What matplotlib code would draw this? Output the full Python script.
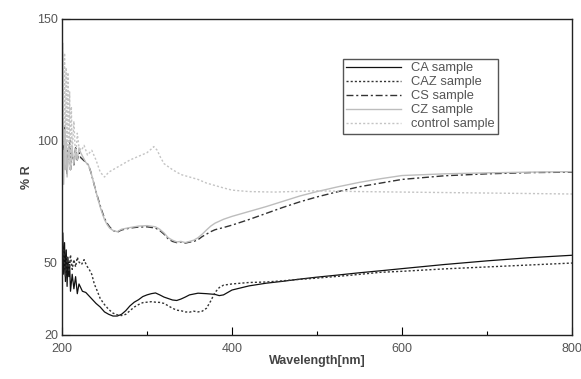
import matplotlib
matplotlib.use("Agg")
import matplotlib.pyplot as plt
from matplotlib.ticker import FixedLocator

plt.rcParams['font.family'] = ['Liberation Sans', 'DejaVu Sans']

# CA sample (black solid)
wl_ca = [200, 201, 202, 203, 204, 205, 206, 207, 208, 209, 210, 212, 214, 216, 218, 220,
         224, 228, 232, 236, 240, 245, 250, 255, 260, 265, 270, 275, 280, 285, 290, 295,
         300, 305, 310, 315, 320, 325, 330, 335, 340, 345, 350, 360, 370, 380, 385, 390,
         400, 420, 440, 460, 480, 500, 520, 550, 580, 600, 650, 700, 750, 800]
ca = [50, 62, 45, 58, 42, 55, 40, 52, 44, 49, 38, 45, 39, 44, 37, 41,
      38, 37.5, 36, 34.5, 33, 31.5, 29.5, 28.5, 27.8, 27.8, 28.5, 30, 32, 33.5, 34.5, 35.8,
      36.5, 37, 37.3, 36.5, 35.6, 35, 34.4, 34.2, 34.8, 35.6, 36.5, 37.2, 37, 36.7, 36.2, 36.5,
      38.5, 40.2, 41.3, 42.1, 43, 43.8, 44.5, 45.6, 46.6, 47.3, 49, 50.5, 51.8, 52.8]

# CAZ sample (dotted)
wl_caz = [200, 202, 204, 206, 208, 210, 212, 214, 216, 218, 220, 223, 226, 229, 232, 235,
          238, 241, 245, 250, 255, 260, 265, 270, 275, 280, 285, 290, 295, 300, 305, 310,
          315, 320, 325, 330, 335, 340, 345, 350, 355, 360, 365, 370, 375, 380, 385, 390,
          400, 420, 440, 460, 480, 500, 540, 575, 600, 650, 700, 750, 800]
caz = [48, 55, 44, 52, 46, 53, 47, 51, 48, 52, 50, 49, 51, 48.5, 47, 45,
       41, 38.5, 35, 32.5, 30.5, 29, 28.3, 28, 28.5, 30, 31.5, 32.5, 33.3, 33.5, 33.7, 33.5,
       33.4, 33, 32, 31, 30.2, 30, 29.5, 29.4, 29.8, 29.5, 29.8, 31, 34, 37.5, 39.5, 40.5,
       41, 41.6, 41.8, 42.3, 42.9, 43.4, 44.6, 45.8, 46.2, 47.2, 48, 48.8, 49.6]

# CS sample (dash-dot)
wl_cs = [200, 201, 202, 203, 204, 205, 206, 207, 208, 209, 210, 212, 214, 216, 218, 220,
         222, 225, 228, 231, 234, 237, 240, 243, 246, 250, 253, 256, 260, 265, 270, 280,
         290, 300, 310, 315, 320, 325, 330, 335, 340, 345, 350, 355, 360, 365, 370, 375,
         380, 390, 400, 420, 440, 460, 480, 500, 525, 550, 575, 600, 650, 700, 750, 800]
cs = [85, 100, 88, 106, 90, 98, 86, 96, 92, 100, 88, 95, 90, 97, 92, 95,
      93, 92, 91, 90, 87, 83, 79, 75.5, 72, 68, 66, 64.5, 63, 62.3, 63.2, 64,
      64.4, 64.5, 64, 63, 61.5, 59.5, 58.5, 58, 58.3, 57.8, 58.2, 58.5, 59.2, 60.5, 61.5, 62.5,
      63.3, 64.2, 65.2, 67.5, 70, 72.5, 74.8, 76.8, 79, 81, 82.5, 84, 85.5, 86.3, 86.8, 87]

# CZ sample (light grey solid)
wl_cz = [200, 201, 202, 203, 204, 205, 206, 208, 210, 212, 214, 216, 218, 220, 222, 225,
         228, 231, 234, 237, 240, 243, 246, 250, 253, 256, 260, 265, 270, 280, 290, 300,
         310, 315, 320, 325, 330, 335, 340, 345, 350, 355, 360, 365, 370, 375, 380, 390,
         400, 410, 420, 440, 460, 480, 500, 525, 550, 575, 600, 650, 700, 750, 800]
cz = [70, 96, 82, 104, 88, 100, 85, 98, 88, 97, 90, 96, 92, 97, 95, 93,
      91, 90, 87, 83, 79, 75, 71.5, 67.5, 65.5, 64, 63, 62.5, 63.5, 64.2, 64.8, 65,
      64.5, 63.5, 62, 60, 59, 58.3, 58.5, 58, 58.5, 59, 60, 61.5, 63.2, 64.8, 66, 67.6,
      68.8, 69.8, 70.8, 72.8, 75, 77.2, 79, 81, 82.8, 84.3, 85.6, 86.3, 86.7, 87, 87.2]

# control sample (light grey dotted)
wl_ctrl = [200, 201, 202, 203, 204, 205, 206, 207, 208, 209, 210, 211, 212, 214, 216, 218,
           220, 223, 226, 230, 235, 240, 245, 250, 255, 260, 270, 280, 290, 300, 305, 308,
           312, 316, 320, 330, 340, 350, 360, 370, 380, 390, 400, 420, 450, 500, 550, 600,
           650, 700, 750, 800]
ctrl = [92, 140, 98, 136, 90, 130, 94, 128, 92, 120, 88, 114, 95, 108, 92, 103,
        97, 96, 98, 94, 96, 92, 87, 85, 87, 88, 90, 92, 93.5, 95, 96.5, 97.5,
        96, 93, 90.5, 88, 86, 85, 84, 82.5, 81.5, 80.5, 79.6, 79, 78.8, 79.3, 79, 78.8,
        78.6, 78.4, 78.2, 78]

x_ticks = [200, 400, 600, 800]
x_minor = [300, 500, 700]
y_ticks = [20, 50, 100, 150]

fig = plt.figure(figsize=(5.81, 3.79), dpi=100)
ax = fig.add_axes([0.1067, 0.1161, 0.8778, 0.8338])

ax.plot(wl_ca, ca, color='#111111', lw=0.9, ls='-', label='CA sample')
ax.plot(wl_caz, caz, color='#333333', lw=1.0, ls=(0, (1.5, 1.5)), label='CAZ sample')
ax.plot(wl_cs, cs, color='#333333', lw=1.0, ls=(0, (5, 2, 1.5, 2)), label='CS sample')
ax.plot(wl_cz, cz, color='#bdbdbd', lw=1.0, ls='-', label='CZ sample')
ax.plot(wl_ctrl, ctrl, color='#c4c4c4', lw=1.0, ls=(0, (1.5, 1.5)), label='control sample')

ax.set_xlim(200, 800)
ax.set_ylim(20, 150)
ax.set_xticks(x_ticks)
ax.xaxis.set_minor_locator(FixedLocator(x_minor))
ax.set_yticks(y_ticks)
ax.tick_params(which='major', direction='in', length=6, width=0.8, labelsize=9,
               labelcolor='#555555')
ax.tick_params(which='minor', direction='in', length=3, width=0.8)
ax.tick_params(axis='x', pad=6)
ax.tick_params(axis='y', pad=3)

for s in ax.spines.values():
    s.set_color('#222222')
    s.set_linewidth(1.0)

ax.set_xlabel('Wavelength[nm]', fontsize=9, fontweight='bold', color='#444444', labelpad=0)
ax.set_ylabel('% R', fontsize=9, fontweight='bold', color='#444444', labelpad=3)

leg = ax.legend(loc='upper left', bbox_to_anchor=(0.551, 0.873), fontsize=9.3,
                handlelength=4.25, handletextpad=0.78, labelspacing=0.15,
                borderpad=0.25, fancybox=False, framealpha=1, borderaxespad=0)
leg.get_frame().set_edgecolor('#555555')
leg.get_frame().set_linewidth(1.0)
for t in leg.get_texts():
    t.set_color('#555555')

fig.savefig('out.png', dpi=100)
